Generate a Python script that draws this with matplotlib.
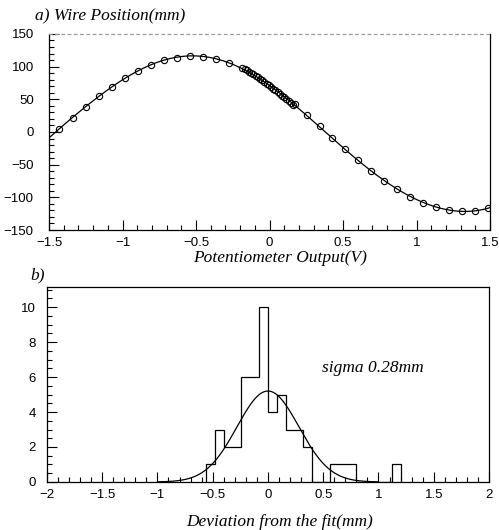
import numpy as np
import matplotlib
matplotlib.use('Agg')
import matplotlib.pyplot as plt
from matplotlib.ticker import MultipleLocator, FuncFormatter

# a) wire position vs potentiometer output
volt = [-1.43, -1.339, -1.25, -1.162, -1.071, -0.983, -0.895, -0.806, -0.716,
        -0.627, -0.54, -0.452, -0.364, -0.273, -0.185,
        -0.170, -0.155, -0.140, -0.125, -0.110, -0.095, -0.080, -0.065, -0.050,
        -0.035, -0.020, -0.005, 0.010, 0.025, 0.040, 0.055, 0.070, 0.085,
        0.100, 0.115, 0.130, 0.145, 0.160,
        0.173, 0.257, 0.341, 0.428, 0.514, 0.604, 0.69, 0.779, 0.869, 0.958,
        1.044, 1.133, 1.223, 1.31, 1.4, 1.486]
wire_mm = [5.2, 22, 38, 55, 69.5, 82.7, 93.4, 103, 110,
           113, 116, 115, 111, 105.7, 98.6,
           96.6, 94.6, 92.5, 90.4, 88.2, 86.0, 83.7, 81.4, 79.0,
           76.6, 74.1, 71.6, 69.0, 66.4, 63.8, 61.1, 58.4, 55.6,
           52.8, 50.0, 47.2, 44.4, 41.5,
           42.3, 26.6, 8.7, -8.6, -26, -42.9, -59.7, -74.4, -87.8, -99,
           -108, -115, -119.4, -121, -120.4, -117]

# b) histogram of deviations (bin width 0.08 mm)
bin_left = [-0.56, -0.48, -0.40, -0.32, -0.24, -0.16, -0.08, 0.00, 0.08, 0.16,
            0.24, 0.32, 0.40, 0.48, 0.56, 0.64, 0.72, 0.80, 0.88, 0.96, 1.04, 1.12]
counts = [1, 3, 2, 2, 6, 6, 10, 4, 5, 3,
          3, 2, 0, 0, 1, 1, 1, 0, 0, 0, 0, 1]
bin_w = 0.08
gaus_amp = 5.2
gaus_mean = 0.0
gaus_sigma = 0.28

serif = {'family': 'Liberation Serif', 'style': 'italic'}
plt.rcParams['font.family'] = 'Liberation Sans'
plt.rcParams['axes.unicode_minus'] = True

fmt = FuncFormatter(lambda v, p: ('%g' % v).replace('-', '\u2212'))

fig = plt.figure(figsize=(4.99, 5.30), dpi=100)

# --- top panel
ax1 = fig.add_axes([0.0982, 0.566, 0.8838, 0.370])
vx = np.array(volt)
vy = np.array(wire_mm)
coef = np.polyfit(vx, vy, 7)
xf = np.linspace(-1.5, 1.5, 300)
ax1.plot(xf, np.polyval(coef, xf), color='k', lw=0.9)
ax1.plot(vx, vy, 'o', mfc='none', mec='k', ms=4.5, mew=0.8)
ax1.set_xlim(-1.5, 1.5)
ax1.set_ylim(-150, 150)
ax1.xaxis.set_major_locator(MultipleLocator(0.5))
ax1.xaxis.set_minor_locator(MultipleLocator(0.1))
ax1.yaxis.set_major_locator(MultipleLocator(50))
ax1.yaxis.set_minor_locator(MultipleLocator(10))
fig.text(0.07, 0.970, 'a) Wire Position(mm)', fontdict=serif, fontsize=12.5,
         va='center', ha='left')
fig.text(0.561, 0.513, 'Potentiometer Output(V)', fontdict=serif, fontsize=12.5,
         va='center', ha='center')

# --- bottom panel
ax2 = fig.add_axes([0.094, 0.0906, 0.886, 0.368])
edges = bin_left + [bin_left[-1] + bin_w]
ax2.stairs(counts, edges, color='k', lw=0.9, baseline=0)
xg = np.linspace(-1.0, 1.0, 300)
ax2.plot(xg, gaus_amp * np.exp(-0.5 * ((xg - gaus_mean) / gaus_sigma) ** 2),
         color='k', lw=0.9)
ax2.set_xlim(-2, 2)
ax2.set_ylim(0, 11.15)
ax2.xaxis.set_major_locator(MultipleLocator(0.5))
ax2.xaxis.set_minor_locator(MultipleLocator(0.1))
ax2.yaxis.set_major_locator(MultipleLocator(2))
ax2.yaxis.set_minor_locator(MultipleLocator(0.5))
ax2.text(0.49, 6.3, 'sigma 0.28mm', fontdict=serif, fontsize=12.5)
fig.text(0.06, 0.481, 'b)', fontdict=serif, fontsize=12.5, va='center', ha='left')
fig.text(0.561, 0.016, 'Deviation from the fit(mm)', fontdict=serif, fontsize=12.5,
         va='center', ha='center')

for ax in (ax1, ax2):
    ax.xaxis.set_major_formatter(fmt)
    ax.yaxis.set_major_formatter(fmt)
    ax.tick_params(which='both', direction='in', top=False, right=False,
                   labelsize=9.5, width=0.8)
    ax.tick_params(which='major', length=7)
    ax.tick_params(which='minor', length=3.5)
    ax.tick_params(axis='x', which='major', pad=5)
    for s in ax.spines.values():
        s.set_linewidth(0.9)
ax1.tick_params(axis='y', which='major', pad=11)
ax2.tick_params(axis='y', which='major', pad=8)
ax1.spines['top'].set_color('0.6')
ax1.spines['top'].set_linestyle((0, (2, 3)))

fig.savefig('out.png', dpi=100)
